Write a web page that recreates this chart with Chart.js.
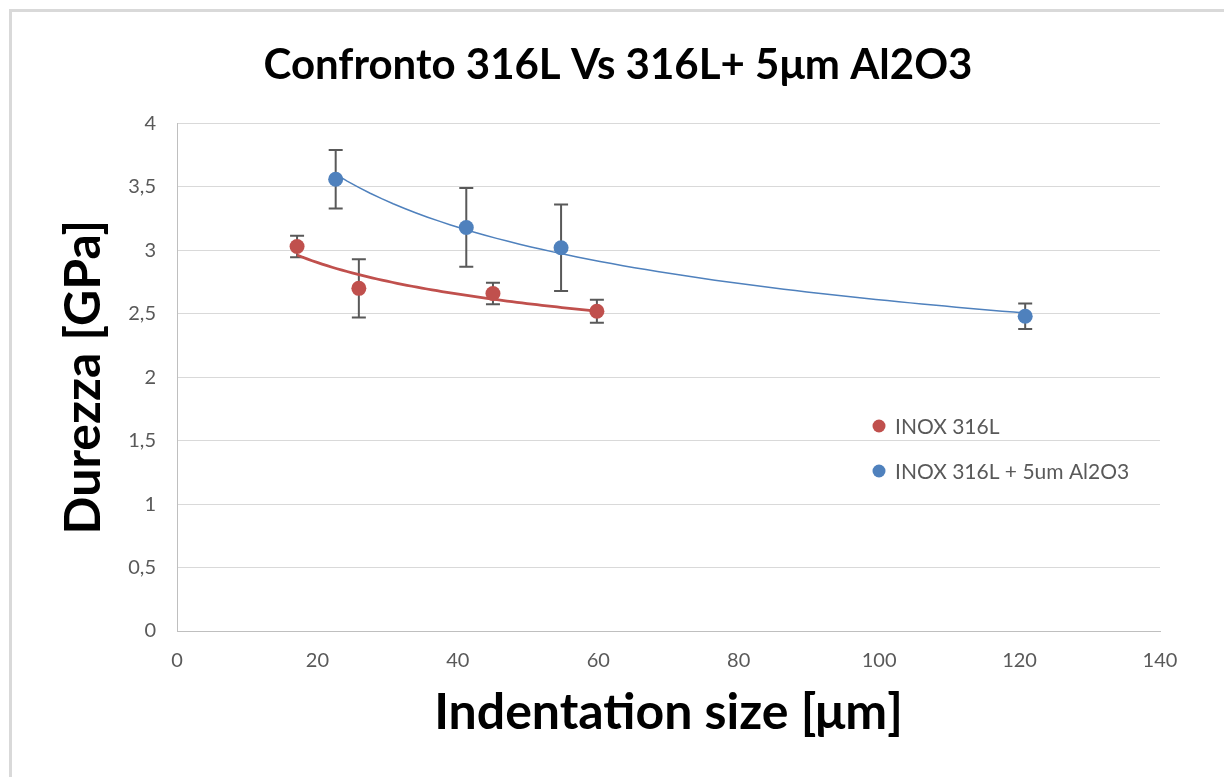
<!DOCTYPE html>
<html>
<head>
<meta charset="utf-8">
<script src="https://cdn.jsdelivr.net/npm/chart.js@4.4.1/dist/chart.umd.min.js"></script>
<style>
  html, body { margin: 0; padding: 0; background: #fff; overflow: hidden; }
  #frame {
    position: absolute; left: 9px; top: 9px; width: 1400px; height: 1000px;
    border-left: 3px solid #d9d9d9; border-top: 3px solid #d9d9d9;
    pointer-events: none;
  }
  #wrap { position: absolute; left: 0; top: 0; width: 1224px; height: 777px; }
</style>
</head>
<body>
<div id="wrap"><canvas id="durezzaChart" width="1224" height="777"></canvas></div>
<div id="frame"></div>
<script>
// data
const sizeSteel = [17.1, 25.9, 45.0, 59.8];
const hardSteel = [3.03, 2.70, 2.66, 2.52];
const errSteel = [0.085, 0.23, 0.085, 0.09];

const sizeAl = [22.6, 41.2, 54.7, 120.8];
const hardAl = [3.56, 3.18, 3.02, 2.48];
const errAl = [0.23, 0.31, 0.34, 0.10];

const seriesNames = ['INOX 316L', 'INOX 316L + 5um Al2O3'];
const xTicks = [0, 20, 40, 60, 80, 100, 120, 140];
const yTicks = [0, 0.5, 1, 1.5, 2, 2.5, 3, 3.5, 4];

const RED = '#C0504D';
const BLUE = '#4F81BD';
const GREY = '#595959';

function toPoints(xs, ys) {
    return xs.map((x, i) => ({ x: x, y: ys[i] }));
}

// power trendline (least squares on logs, like Excel)
function powerTrend(xs, ys) {
    let lx = xs.map(Math.log), ly = ys.map(Math.log);
    let mx = lx.reduce((a, b) => a + b) / lx.length;
    let my = ly.reduce((a, b) => a + b) / ly.length;
    let sxy = 0, sxx = 0;
    for (let i = 0; i < lx.length; i++) {
        sxy += (lx[i] - mx) * (ly[i] - my);
        sxx += (lx[i] - mx) * (lx[i] - mx);
    }
    let b = sxy / sxx;
    let a = Math.exp(my - b * mx);
    let lo = Math.min(...xs), hi = Math.max(...xs);
    let pts = [];
    for (let i = 0; i <= 60; i++) {
        let x = lo + (hi - lo) * i / 60;
        pts.push({ x: x, y: a * Math.pow(x, b) });
    }
    return pts;
}

// error bars, drawn under the markers
const errorBars = {
    id: 'errorBars',
    beforeDatasetsDraw(chart) {
        const ctx = chart.ctx;
        const xs = chart.scales.x, ys = chart.scales.y;
        ctx.save();
        ctx.strokeStyle = GREY;
        ctx.lineWidth = 2;
        chart.data.datasets.forEach(ds => {
            if (!ds.errors) return;
            ds.data.forEach((p, i) => {
                let px = xs.getPixelForValue(p.x);
                let top = ys.getPixelForValue(p.y + ds.errors[i]);
                let bot = ys.getPixelForValue(p.y - ds.errors[i]);
                ctx.beginPath();
                ctx.moveTo(px, top); ctx.lineTo(px, bot);
                ctx.moveTo(px - 7, top); ctx.lineTo(px + 7, top);
                ctx.moveTo(px - 7, bot); ctx.lineTo(px + 7, bot);
                ctx.stroke();
            });
        });
        ctx.restore();
    }
};

// legend floating inside the plot, like the original
const floatLegend = {
    id: 'floatLegend',
    afterDraw(chart) {
        const ctx = chart.ctx;
        let x = 879, y = 426;
        ctx.save();
        ctx.font = '21px Lato';
        ctx.textBaseline = 'middle';
        chart.data.datasets.forEach(ds => {
            if (!ds.errors) return;
            ctx.fillStyle = ds.backgroundColor;
            ctx.beginPath();
            ctx.arc(x, y, 6.5, 0, Math.PI * 2);
            ctx.fill();
            ctx.fillStyle = GREY;
            ctx.fillText(ds.label, x + 16, y + 1);
            y += 45;
        });
        ctx.restore();
    }
};

const ctx = document.getElementById('durezzaChart').getContext('2d');

new Chart(ctx, {
    type: 'scatter',
    data: {
        datasets: [
            {
                label: seriesNames[0],
                data: toPoints(sizeSteel, hardSteel),
                errors: errSteel,
                backgroundColor: RED,
                borderColor: RED,
                pointRadius: 7.5,
                pointBorderWidth: 0,
                order: 0
            },
            {
                label: seriesNames[1],
                data: toPoints(sizeAl, hardAl),
                errors: errAl,
                backgroundColor: BLUE,
                borderColor: BLUE,
                pointRadius: 7.5,
                pointBorderWidth: 0,
                order: 0
            },
            {
                label: 'trend 316L',
                type: 'line',
                data: powerTrend(sizeSteel, hardSteel),
                borderColor: RED,
                borderWidth: 2.75,
                pointRadius: 0,
                fill: false,
                order: 2
            },
            {
                label: 'trend Al2O3',
                type: 'line',
                data: powerTrend(sizeAl, hardAl),
                borderColor: BLUE,
                borderWidth: 1.5,
                pointRadius: 0,
                fill: false,
                order: 2
            }
        ]
    },
    options: {
        responsive: false,
        animation: false,
        layout: { padding: { left: 12, right: 0, top: 0, bottom: 0 } },
        plugins: {
            legend: { display: false },
            tooltip: { enabled: false },
            title: {
                display: true,
                text: 'Confronto 316L Vs 316L+ 5μm Al2O3',
                color: '#000',
                font: { family: 'Lato', size: 42, weight: 'bold', lineHeight: 1.2 },
                padding: { top: 40, bottom: 33 }
            }
        },
        scales: {
            x: {
                type: 'linear',
                min: 0,
                max: 140,
                afterBuildTicks: s => { s.ticks = xTicks.map(v => ({ value: v })); },
                afterFit: s => { s.height = 777 - 631; },
                grid: { drawOnChartArea: false, drawTicks: false },
                border: { display: true, color: '#bfbfbf', width: 1 },
                ticks: {
                    color: GREY,
                    font: { family: 'Lato', size: 20 },
                    padding: 18
                },
                title: {
                    display: true,
                    text: 'Indentation size [μm]',
                    color: '#000',
                    font: { family: 'Lato', size: 50, weight: 'bold', lineHeight: 1.2 },
                    padding: { top: 0, bottom: 34 }
                }
            },
            y: {
                type: 'linear',
                min: 0,
                max: 4,
                afterBuildTicks: s => { s.ticks = yTicks.map(v => ({ value: v })); },
                afterFit: s => { s.width = 177 - 12; },
                grid: { color: '#d9d9d9', drawTicks: false },
                border: { display: true, color: '#bfbfbf', width: 1 },
                ticks: {
                    color: GREY,
                    font: { family: 'Lato', size: 20 },
                    padding: 21,
                    callback: v => String(v).replace('.', ',')
                },
                title: {
                    display: true,
                    text: 'Durezza [GPa]',
                    color: '#000',
                    font: { family: 'Lato', size: 50, weight: 'bold', lineHeight: 1.2 },
                    padding: { top: 42, bottom: 0 }
                }
            },
            // empty strip on the right so the plot ends where the original does
            rightSpace: {
                type: 'linear',
                position: 'right',
                afterFit: s => { s.width = 1224 - 1160; },
                grid: { drawOnChartArea: false, drawTicks: false },
                border: { display: false },
                ticks: { display: false }
            }
        }
    },
    plugins: [errorBars, floatLegend]
});
</script>
</body>
</html>
